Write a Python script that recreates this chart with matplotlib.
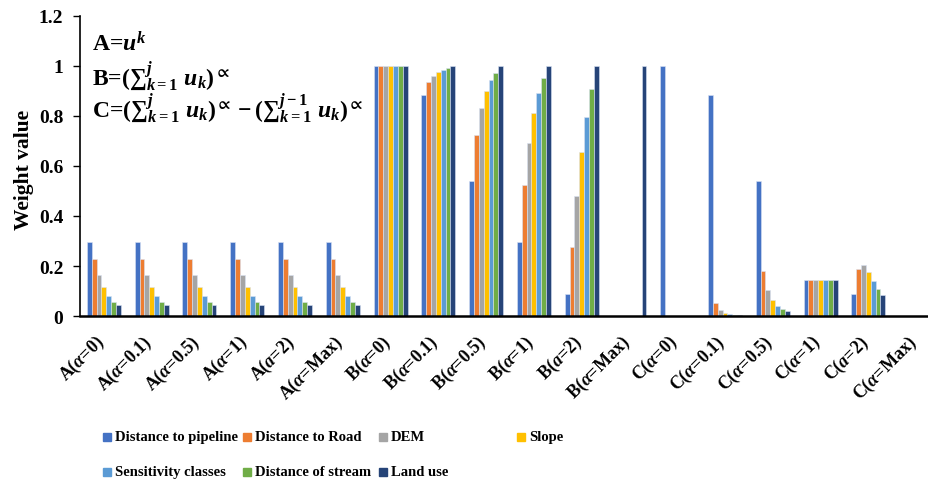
import numpy as np
import matplotlib
matplotlib.use("Agg")
import matplotlib.pyplot as plt
import matplotlib.transforms as mtransforms
from matplotlib.patches import Rectangle

plt.rcParams['font.family'] = ['Liberation Serif', 'DejaVu Serif']
plt.rcParams['font.weight'] = 'bold'
plt.rcParams['mathtext.fontset'] = 'custom'
plt.rcParams['mathtext.rm'] = 'Liberation Serif:bold'
plt.rcParams['mathtext.it'] = 'Liberation Serif:italic:bold'
plt.rcParams['mathtext.bf'] = 'Liberation Serif:bold'
plt.rcParams['mathtext.fallback'] = 'stix'

# категории (группы по оси X)
categories = [r"A($\alpha$=0)", r"A($\alpha$=0.1)", r"A($\alpha$=0.5)", r"A($\alpha$=1)",
              r"A($a$=2)", r"A($\alpha$=Max)",
              r"B($\alpha$=0)", r"B($\alpha$=0.1)", r"B($\alpha$=0.5)", r"B($\alpha$=1)",
              r"B($a$=2)", r"B($\alpha$=Max)",
              r"C($\alpha$=0)", r"C($\alpha$=0.1)", r"C($\alpha$=0.5)", r"C($\alpha$=1)",
              r"C($a$=2)", r"C($\alpha$=Max)"]

series_names = ["Distance to pipeline", "Distance to Road", "DEM", "Slope",
                "Sensitivity classes", "Distance of stream", "Land use"]

# значения
pipeline = [0.296, 0.296, 0.296, 0.296, 0.296, 0.296, 1.0, 0.883, 0.542, 0.295, 0.087, 0.0,
            1.0, 0.883, 0.542, 0.143, 0.087, 0.0]
road = [0.23, 0.23, 0.23, 0.23, 0.23, 0.23, 1.0, 0.936, 0.724, 0.525, 0.276, 0.0,
        0.0, 0.052, 0.180, 0.143, 0.189, 0.0]
dem = [0.166, 0.166, 0.166, 0.166, 0.166, 0.166, 1.0, 0.962, 0.832, 0.692, 0.480, 0.0,
       0.0, 0.025, 0.105, 0.143, 0.203, 0.0]
slope = [0.118, 0.118, 0.118, 0.118, 0.118, 0.118, 1.0, 0.976, 0.899, 0.811, 0.657, 0.0,
         0.0, 0.013, 0.066, 0.143, 0.176, 0.0]
sensitivity = [0.081, 0.081, 0.081, 0.081, 0.081, 0.081, 1.0, 0.986, 0.943, 0.892, 0.798, 0.0,
               0.0, 0.008, 0.041, 0.143, 0.139, 0.0]
stream = [0.058, 0.058, 0.058, 0.058, 0.058, 0.058, 1.0, 0.993, 0.974, 0.951, 0.907, 0.0,
          0.0, 0.005, 0.028, 0.143, 0.107, 0.0]
land_use = [0.044, 0.044, 0.044, 0.044, 0.044, 0.044, 1.0, 1.0, 1.0, 1.0, 1.0, 1.0,
            0.0, 0.004, 0.019, 0.143, 0.085, 0.0]

all_series = [pipeline, road, dem, slope, sensitivity, stream, land_use]
colors = ["#4472C4", "#ED7D31", "#A5A5A5", "#FFC000", "#5B9BD5", "#70AD47", "#264478"]

fig = plt.figure(figsize=(9.29, 4.85), dpi=100)
ax = fig.add_axes([80 / 929, 1 - 317 / 485, 860 / 929, 300 / 485])

x = np.arange(len(categories))
bar_w = 0.1016
for i, (vals, col) in enumerate(zip(all_series, colors)):
    offs = (i - 3) * bar_w
    ax.bar(x + offs, vals, width=bar_w, color=col, edgecolor='#d9e2f3', linewidth=0.4)

ax.set_xlim(-0.5, len(categories) - 0.5)
ax.set_ylim(0, 1.2)
ax.set_yticks([0, 0.2, 0.4, 0.6, 0.8, 1, 1.2])
ax.set_yticklabels(["0", "0.2", "0.4", "0.6", "0.8", "1", "1.2"], fontsize=14, fontweight='bold')
ax.set_xticks(x)
ax.set_xticklabels(categories, rotation=45, ha='right', va='top', fontsize=13, fontweight='bold')
ax.tick_params(axis='x', length=0, pad=11)
ax.tick_params(axis='y', length=5, width=1, direction='out', pad=7)

# немного сдвигаем подписи вправо, как в Excel
shift = mtransforms.ScaledTranslation(5 / 100, 0, fig.dpi_scale_trans)
for lbl in ax.get_xticklabels():
    lbl.set_transform(lbl.get_transform() + shift)

ax.spines['top'].set_visible(False)
ax.spines['right'].set_visible(False)
ax.spines['left'].set_linewidth(1.2)
ax.spines['bottom'].set_linewidth(1.8)
ax.set_ylabel("Weight value", fontsize=15.5, fontweight='bold')
ax.yaxis.set_label_coords(-46 / 860, 0.49)

# формулы
fs = 17
fig.text(92 / 929, 1 - 44 / 485, r"A=$u^{k}$", fontsize=fs, va='center', fontweight='bold')
fig.text(92 / 929, 1 - 76 / 485, r"B=$({\sum}_{k=1}^{j}\ u_{k})^{\propto}$",
         fontsize=fs, va='center', fontweight='bold')
fig.text(92 / 929, 1 - 108 / 485,
         r"C=$({\sum}_{k=1}^{j}\ u_{k})^{\propto}-({\sum}_{k=1}^{j-1}\ u_{k})^{\propto}$",
         fontsize=fs, va='center', fontweight='bold')

# легенда вручную (как в Excel, по строкам)
col_x = [107, 247, 383, 521]
row_y = [438, 473]
for i, name in enumerate(series_names):
    cx = col_x[i % 4]
    cy = row_y[i // 4]
    fig.patches.append(Rectangle(((cx - 4) / 929, 1 - (cy + 4) / 485), 8 / 929, 8 / 485,
                                 transform=fig.transFigure, color=colors[i]))
    fig.text((cx + 8) / 929, 1 - cy / 485, name, fontsize=10.5, fontweight='bold', va='center')

fig.savefig("out.png", dpi=100)
